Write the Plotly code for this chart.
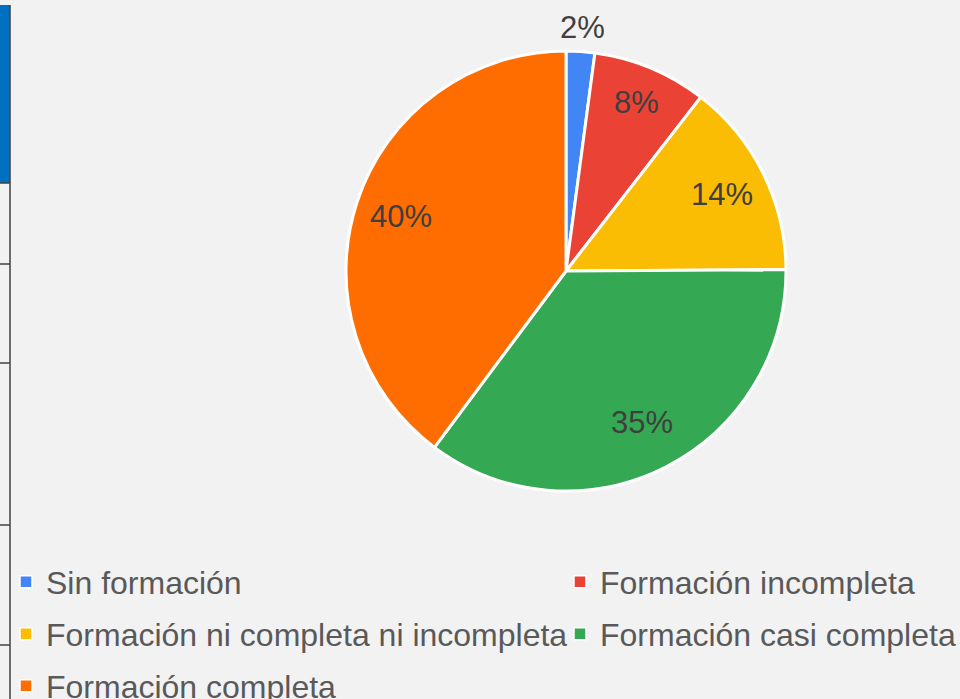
import math
import plotly.graph_objects as go

labels = ["Sin formación", "Formación incompleta", "Formación ni completa ni incompleta",
          "Formación casi completa", "Formación completa"]
values = [2.1, 8.4, 14.4, 35.3, 39.8]
colors = ["#4285f4", "#ea4335", "#fbbc04", "#34a853", "#ff6d01"]
label_radius = [1.11, 0.83, 0.79, 0.77, 0.79]   # label distance as fraction of pie radius

W, H = 960, 699
PIE_CX, PIE_CY, PIE_R = 566, 271, 220  # pixels (from top-left)

fig = go.Figure()
fig.add_trace(go.Pie(
    labels=labels, values=values, sort=False, direction="clockwise", rotation=0,
    marker=dict(colors=colors, line=dict(color="white", width=3)),
    textinfo="none", showlegend=False,
    domain=dict(x=[(PIE_CX - PIE_R) / W, (PIE_CX + PIE_R) / W],
                y=[1 - (PIE_CY + PIE_R) / H, 1 - (PIE_CY - PIE_R) / H]),
    hoverinfo="label+percent",
))

# percentage labels placed along each slice's mid-angle
total = sum(values)
annotations = []
cum = 0
for v, rf in zip(values, label_radius):
    mid = (cum + v / 2) / total * 2 * math.pi
    cum += v
    px = PIE_CX + rf * PIE_R * math.sin(mid)
    py = PIE_CY - rf * PIE_R * math.cos(mid)
    annotations.append(dict(x=px / W, y=1 - py / H, xref="paper", yref="paper",
                            text=f"{round(v / total * 100)}%", showarrow=False,
                            xanchor="center", yanchor="middle",
                            font=dict(family="Liberation Sans, Arial", size=31, color="#3f3f3f")))

# legend entries (one legend box per entry to reproduce the 2-column grid)
legend_pos = [(6, 582), (560, 582), (6, 634), (560, 634), (6, 686)]
legend_names = ["legend", "legend2", "legend3", "legend4", "legend5"]
legends = {}
for lab, col, ln, (lx, ly) in zip(labels, colors, legend_names, legend_pos):
    fig.add_trace(go.Scatter(x=[None], y=[None], mode="markers", name=lab, legend=ln,
                             marker=dict(symbol="square", size=12, color=col,
                                         line=dict(color="white", width=1.5)),
                             hoverinfo="skip", showlegend=True))
    legends[ln] = dict(x=lx / W, y=1 - ly / H, xanchor="left", yanchor="middle",
                       font=dict(family="Liberation Sans, Arial", size=32, color="#595959"),
                       bgcolor="rgba(0,0,0,0)", borderwidth=0)

# left-edge table border decoration
shapes = [dict(type="rect", xref="paper", yref="paper", x0=0, x1=10 / W, y0=1 - 183 / H, y1=1 - 5 / H,
               fillcolor="#0070c0", line=dict(width=0), layer="below"),
          dict(type="line", xref="paper", yref="paper", x0=10 / W, x1=10 / W, y0=0, y1=1 - 5 / H,
               line=dict(color="#404040", width=1.5))]
for yy in [183, 264, 363, 525, 645]:
    shapes.append(dict(type="line", xref="paper", yref="paper", x0=0, x1=10 / W, y0=1 - yy / H, y1=1 - yy / H,
                       line=dict(color="#404040", width=1.5)))

fig.update_layout(
    width=W, height=H, paper_bgcolor="#f2f2f2", plot_bgcolor="#f2f2f2",
    margin=dict(l=0, r=0, t=0, b=0, autoexpand=False),
    xaxis=dict(visible=False), yaxis=dict(visible=False),
    shapes=shapes, annotations=annotations,
    **legends,
)
fig.write_html("out.html", config={"displayModeBar": False},
               post_script="document.body.style.margin='0';document.body.style.overflow='hidden';"
                           "document.documentElement.style.overflow='hidden';")
